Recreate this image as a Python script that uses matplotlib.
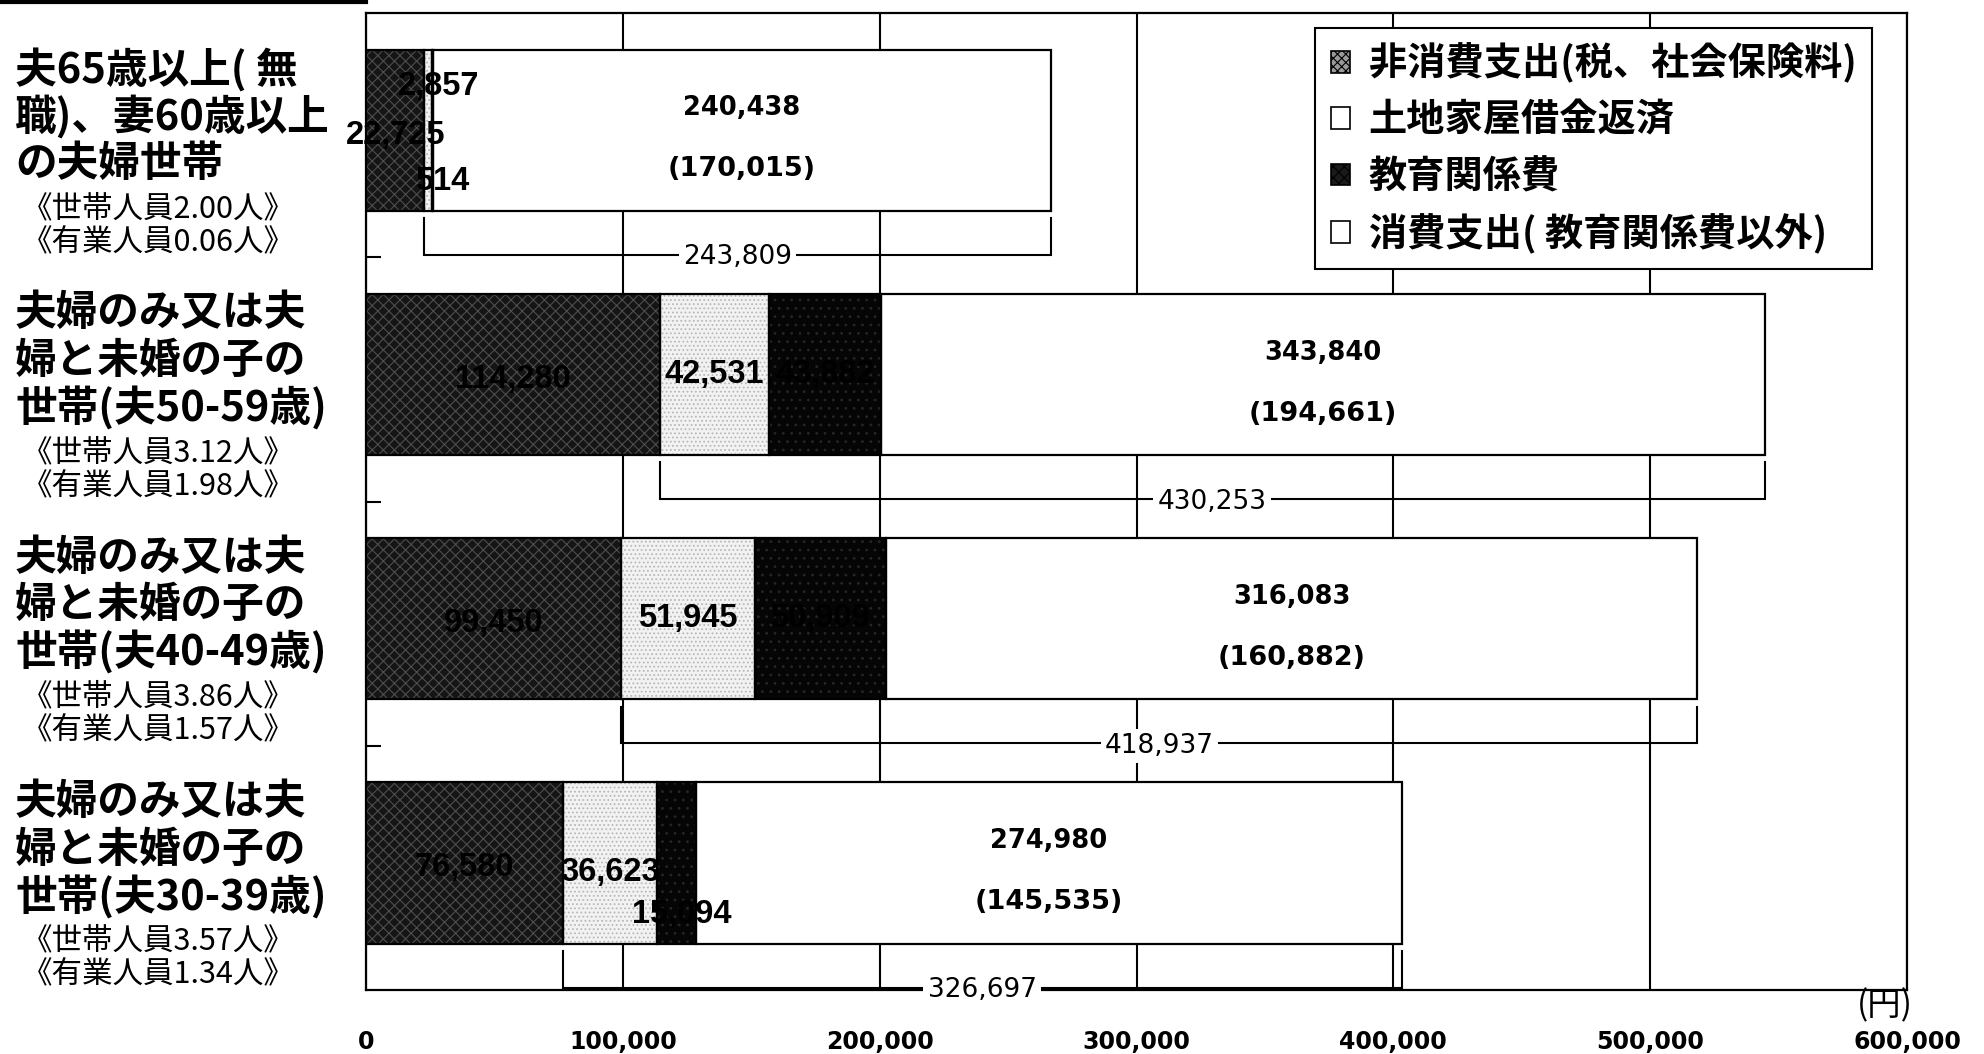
import matplotlib
matplotlib.use("Agg")
import matplotlib.pyplot as plt
import matplotlib.transforms as mtrans
from matplotlib.patches import Patch
from matplotlib.lines import Line2D
import numpy as np

# ---------------- data ----------------
cat_lines = [
    ["夫65歳以上( 無", "職)、妻60歳以上", "の夫婦世帯"],
    ["夫婦のみ又は夫", "婦と未婚の子の", "世帯(夫50-59歳)"],
    ["夫婦のみ又は夫", "婦と未婚の子の", "世帯(夫40-49歳)"],
    ["夫婦のみ又は夫", "婦と未婚の子の", "世帯(夫30-39歳)"],
]
household_members = ["2.00", "3.12", "3.86", "3.57"]
earners = ["0.06", "1.98", "1.57", "1.34"]

series_names = ["非消費支出(税、社会保険料)", "土地家屋借金返済", "教育関係費", "消費支出( 教育関係費以外)"]
non_consumption = [22725, 114280, 99450, 76580]
housing_loan = [2857, 42531, 51945, 36623]
education = [514, 43882, 50909, 15094]
consumption_other = [240438, 343840, 316083, 274980]
consumption_paren = [170015, 194661, 160882, 145535]
bracket_totals = [243809, 430253, 418937, 326697]

xticks = [0, 100000, 200000, 300000, 400000, 500000, 600000]
xtick_labels = ["0", "100,000", "200,000", "300,000", "400,000", "500,000", "600,000"]

# ---------------- style ----------------
plt.rcParams["font.family"] = ["Noto Sans CJK JP", "DejaVu Sans"]
plt.rcParams["hatch.linewidth"] = 0.8

W, H = 1984, 1054
fig = plt.figure(figsize=(W / 100, H / 100), dpi=100)
ax_l, ax_r, ax_t, ax_b = 366, 1907, 13, 990
ax = fig.add_axes([ax_l / W, 1 - ax_b / H, (ax_r - ax_l) / W, (ax_b - ax_t) / H])

n = len(cat_lines)
y = np.arange(n)
bar_h = 0.66
yc = y - 0.02

styles = [
    dict(face="#151515", hatch="xxx", hcol="#4e4e4e"),
    dict(face="#f2f2f2", hatch="....", hcol="#b8b8b8"),
    dict(face="#050505", hatch="..", hcol="#262626"),
    dict(face="white", hatch=None, hcol=None),
]
series = [non_consumption, housing_loan, education, consumption_other]

left = np.zeros(n)
lefts = []
for vals, st in zip(series, styles):
    vals = np.array(vals, dtype=float)
    lefts.append(left.copy())
    ax.barh(yc, vals, left=left, height=bar_h, color=st["face"], edgecolor="none",
            linewidth=0, zorder=3)
    if st["hatch"]:
        ax.barh(yc, vals, left=left, height=bar_h, color="none", edgecolor=st["hcol"],
                hatch=st["hatch"], linewidth=0, zorder=3.2)
    ax.barh(yc, vals, left=left, height=bar_h, color="none", edgecolor="black",
            linewidth=1.6, zorder=3.5)
    left = left + vals
totals = left

# segment labels
seg_font = dict(family="Liberation Sans", fontweight="bold", fontsize=23.5, color="black", zorder=6)
for i in range(n):
    ax.text(lefts[0][i] + non_consumption[i] / 2, yc[i] + 0.02, f"{non_consumption[i]:,}",
            ha="center", va="center", **seg_font)
    dy2 = -0.18 if i == 0 else (0.04 if i == 3 else 0.0)
    dx2 = 4000 if i == 0 else 0
    ax.text(lefts[1][i] + housing_loan[i] / 2 + dx2, yc[i] + dy2, f"{housing_loan[i]:,}",
            ha="center", va="center", **seg_font)
    dy3 = 0.21 if i in (0, 3) else 0.0
    dx3 = 4000 if i == 0 else (2000 if i == 3 else 0)
    ax.text(lefts[2][i] + education[i] / 2 + dx3, yc[i] + dy3, f"{education[i]:,}",
            ha="center", va="center", **seg_font)
    cx = lefts[3][i] + consumption_other[i] / 2
    ax.text(cx, yc[i] - 0.09, f"{consumption_other[i]:,}", ha="center", va="center",
            family="DejaVu Sans", fontweight="bold", fontsize=18.5, zorder=6)
    ax.text(cx, yc[i] + 0.16, f"({consumption_paren[i]:,})", ha="center", va="center",
            family="DejaVu Sans", fontweight="bold", fontsize=19.5, zorder=6)

# brackets
for i in range(n):
    x0 = lefts[1][i]
    x1 = totals[i]
    ytop = yc[i] + bar_h / 2 + 0.03
    yb = i + 0.49
    ax.plot([x0, x0, x1, x1], [ytop, yb, yb, ytop], color="black", lw=1.5, zorder=2.5,
            solid_joinstyle="miter")
    ax.text((x0 + x1) / 2, yb + 0.01, f"{bracket_totals[i]:,}", ha="center", va="center",
            family="DejaVu Sans", fontsize=19, zorder=4,
            bbox=dict(facecolor="white", edgecolor="none", pad=3))

# axes formatting
ax.set_xlim(0, 600000)
ax.set_ylim(n - 0.5, -0.5)
ax.set_xticks(xticks)
ax.set_xticklabels(xtick_labels, family="DejaVu Sans", fontweight="bold", fontsize=17)
ax.tick_params(axis="x", length=0, pad=29)
ax.set_yticks(y[:-1] + 0.5)
ax.set_yticklabels([])
ax.tick_params(axis="y", direction="in", length=11, width=1.5, color="black")
ax.grid(axis="x", color="black", lw=1.5, zorder=1)
ax.grid(axis="y", visible=False)
ax.set_axisbelow(True)
for sp in ax.spines.values():
    sp.set_color("black")
    sp.set_linewidth(1.6)

# category labels
trans = mtrans.blended_transform_factory(fig.transFigure, ax.transData)
big_off = [-0.27, -0.075, 0.12]
small_off = [0.30, 0.44]
for i in range(n):
    for line, off in zip(cat_lines[i], big_off):
        ax.text(15 / W, i + off, line, transform=trans, ha="left", va="center",
                fontsize=30, fontweight="bold", clip_on=False)
    ax.text(22 / W, i + small_off[0], f"《世帯人員{household_members[i]}人》", transform=trans,
            ha="left", va="center", fontsize=22, clip_on=False)
    ax.text(22 / W, i + small_off[1], f"《有業人員{earners[i]}人》", transform=trans,
            ha="left", va="center", fontsize=22, clip_on=False)

# legend
legend_faces = ["#9a9a9a", "white", "#1a1a1a", "white"]
legend_hatch = ["xxxx", None, "xxx", None]
handles = []
for fc, hh, name in zip(legend_faces, legend_hatch, series_names):
    handles.append(Patch(facecolor=fc, edgecolor="black", hatch=hh, linewidth=1.2, label=name))
leg = ax.legend(handles=handles, loc="upper left", bbox_to_anchor=(0.616, 0.985),
                fontsize=27.5, frameon=True, fancybox=False, edgecolor="black",
                framealpha=1, handlelength=0.5, handleheight=0.5, handletextpad=0.5,
                labelspacing=0.45, borderpad=0.4, borderaxespad=0)
leg.get_frame().set_linewidth(1.5)
for t in leg.get_texts():
    t.set_fontweight("bold")
leg.set_zorder(10)

# unit label and top rule
fig.text(1913 / W, 1 - 1006 / H, "(円)", ha="right", va="center", fontsize=24)
fig.add_artist(Line2D([0, ax_l / W], [0.998, 0.998], transform=fig.transFigure,
                      color="black", lw=3))

fig.savefig("out.png", dpi=100)
